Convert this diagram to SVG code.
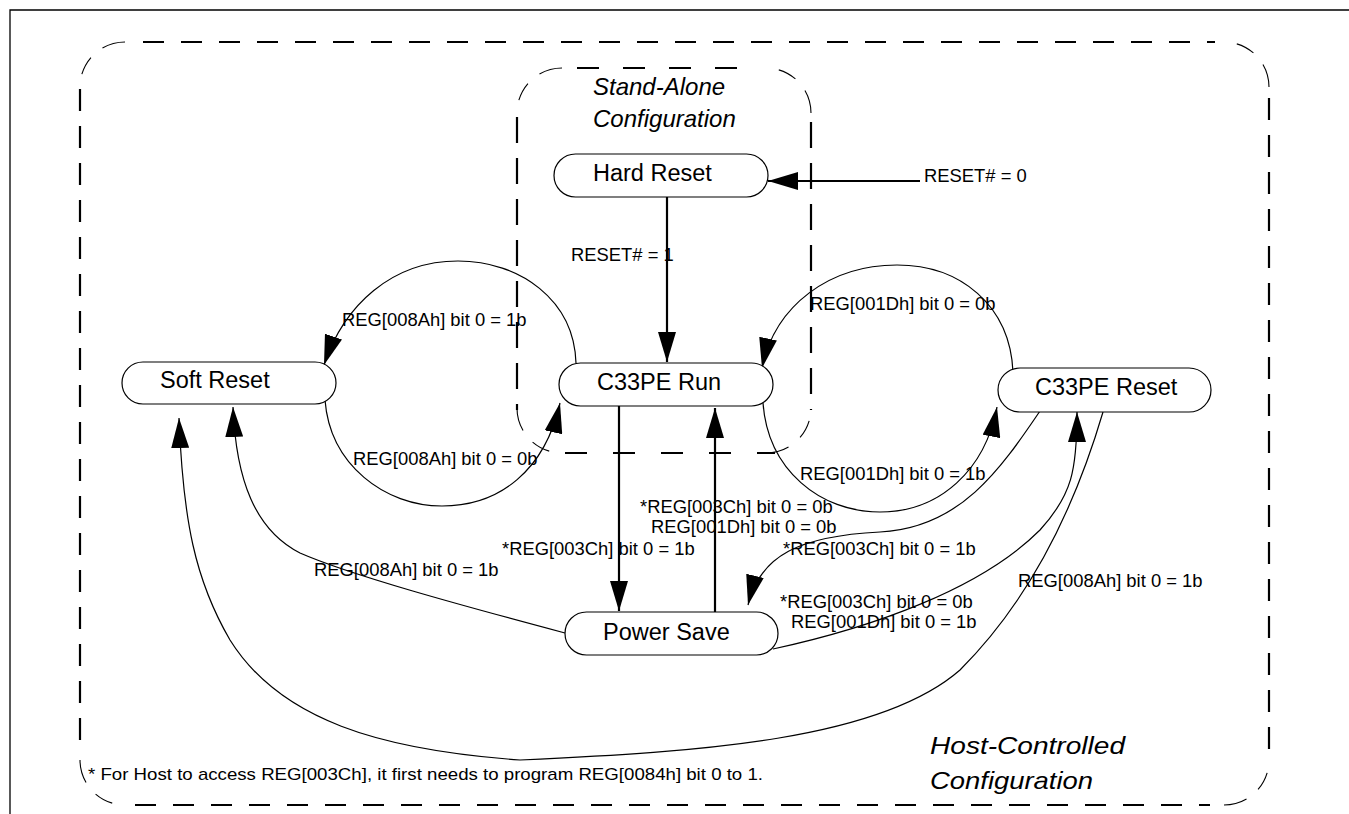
<svg xmlns="http://www.w3.org/2000/svg" width="1349" height="814" viewBox="0 0 1349 814">
<style>
.frame{fill:none;stroke:#000;stroke-width:1.3}
.dh{fill:none;stroke:#000;stroke-width:2.2}
.dc{fill:none;stroke:#000;stroke-width:1.1;stroke-dasharray:0 13 19 15 24 10}
.node{fill:#fff;stroke:#000;stroke-width:1.2}
.nt{font-family:"Liberation Sans",Arial,sans-serif;font-size:23.5px;fill:#000}
.lb{font-family:"Liberation Sans",Arial,sans-serif;font-size:18.4px;fill:#000}
.it{font-family:"Liberation Sans",Arial,sans-serif;font-size:24px;font-style:italic;fill:#000}
.fn{font-family:"Liberation Sans",Arial,sans-serif;font-size:17px;fill:#000}
.thin{fill:none;stroke:#000;stroke-width:1.2;marker-end:url(#ah)}
.thick{fill:none;stroke:#000;stroke-width:2.2;marker-end:url(#ah)}
</style>
<defs>
<marker id="ah" markerUnits="userSpaceOnUse" markerWidth="30" markerHeight="18" refX="30" refY="9" orient="auto" viewBox="0 0 30 18">
<path d="M0,0 L30,9 L0,18 z" fill="#000"/>
</marker>
</defs>
<rect width="1349" height="814" fill="#fff"/>
<path class="frame" d="M10,814 V10 H1349"/>
<g id="host-controlled-boundary">
<path class="dh" style="stroke-dasharray:21 17" d="M143,42 H1215"/>
<path class="dh" style="stroke-dasharray:21 17" d="M135,805 H1210"/>
<path class="dh" style="stroke-dasharray:22 15" d="M80,89 V750"/>
<path class="dh" style="stroke-dasharray:22 15" d="M1269,98 V760"/>
<path class="dc" d="M80,87 A45,45 0 0 1 125,42"/>
<path class="dc" d="M1224,42 A45,45 0 0 1 1269,87"/>
<path class="dc" d="M1269,760 A45,45 0 0 1 1224,805"/>
<path class="dc" d="M125,805 A45,45 0 0 1 80,760"/>
<text class="it" x="930" y="754" textLength="195" lengthAdjust="spacingAndGlyphs">Host-Controlled</text>
<text class="it" x="930" y="789" textLength="163" lengthAdjust="spacingAndGlyphs">Configuration</text>
</g>
<g id="stand-alone-boundary">
<path class="dh" style="stroke-dasharray:22 24" d="M577,68 H760"/>
<path class="dh" style="stroke-dasharray:22 26" d="M565,453 H775"/>
<path class="dh" style="stroke-dasharray:26 15" d="M517,117 V410"/>
<path class="dh" style="stroke-dasharray:26 15" d="M811,122 V410"/>
<path class="dc" d="M517,113 A45,45 0 0 1 562,68"/>
<path class="dc" d="M766,68 A45,45 0 0 1 811,113"/>
<path class="dc" d="M811,408 A45,45 0 0 1 766,453"/>
<path class="dc" d="M562,453 A45,45 0 0 1 517,408"/>
<text class="it" x="593" y="95">Stand-Alone</text>
<text class="it" x="593" y="127">Configuration</text>
</g>
<g id="connectors">
<path class="thick" d="M920,181 H768"/>
<path class="thick" d="M667,197 V362"/>
<path class="thick" d="M619,406 V611"/>
<path class="thick" d="M715,612 V408"/>
<path class="thin" d="M576,363 C574,300 520,261 458,261 C392,261 344,305 324,365"/>
<path class="thin" d="M325,400 C330,465 385,506 442,506 C500,506 545,470 560,403"/>
<path class="thin" d="M1013,372 C1010,305 960,265 897,265 C830,265 775,305 762,368"/>
<path class="thin" d="M763,403 C768,470 820,512 880,512 C940,512 985,470 997,407"/>
<path class="thin" d="M1040,411 C1000,470 960,528 880,532 C800,536 760,555 748,605"/>
<path class="thin" d="M773,649 C870,628 980,590 1040,530 C1072,495 1077,470 1077,412"/>
<path class="thin" d="M1103,412 C1080,490 1040,590 960,670 C880,740 700,752 520,760 C380,750 280,720 230,640 C195,580 183,520 179,418"/>
<path class="thin" d="M565,633 C460,605 350,575 300,553 C255,530 236,480 233,407"/>
<text class="lb" x="924" y="182">RESET# = 0</text>
<text class="lb" x="571" y="261">RESET# = 1</text>
<text class="lb" x="342" y="326">REG[008Ah] bit 0 = 1b</text>
<text class="lb" x="353" y="465">REG[008Ah] bit 0 = 0b</text>
<text class="lb" x="810" y="310">REG[001Dh] bit 0 = 0b</text>
<text class="lb" x="800" y="480">REG[001Dh] bit 0 = 1b</text>
<text class="lb" x="640" y="513">*REG[003Ch] bit 0 = 0b</text>
<text class="lb" x="651" y="533">REG[001Dh] bit 0 = 0b</text>
<text class="lb" x="502" y="555">*REG[003Ch] bit 0 = 1b</text>
<text class="lb" x="314" y="576">REG[008Ah] bit 0 = 1b</text>
<text class="lb" x="783" y="555">*REG[003Ch] bit 0 = 1b</text>
<text class="lb" x="780" y="608">*REG[003Ch] bit 0 = 0b</text>
<text class="lb" x="791" y="628">REG[001Dh] bit 0 = 1b</text>
<text class="lb" x="1018" y="587">REG[008Ah] bit 0 = 1b</text>
</g>
<g id="hard-reset">
<rect class="node" x="554" y="154" width="214" height="43" rx="21.5"/>
<text class="nt" x="593" y="181">Hard Reset</text>
</g>
<g id="soft-reset">
<rect class="node" x="122" y="362" width="214" height="42" rx="21"/>
<text class="nt" x="160" y="388">Soft Reset</text>
</g>
<g id="c33pe-run">
<rect class="node" x="559" y="363" width="214" height="43" rx="21.5"/>
<text class="nt" x="597" y="390">C33PE Run</text>
</g>
<g id="c33pe-reset">
<rect class="node" x="998" y="368" width="213" height="44" rx="22"/>
<text class="nt" x="1035" y="395">C33PE Reset</text>
</g>
<g id="power-save">
<rect class="node" x="565" y="612" width="213" height="43" rx="21.5"/>
<text class="nt" x="603" y="640">Power Save</text>
</g>
<g id="footnote">
<text class="fn" x="88" y="780" textLength="675" lengthAdjust="spacingAndGlyphs">* For Host to access REG[003Ch], it first needs to program REG[0084h] bit 0 to 1.</text>
</g>
</svg>
